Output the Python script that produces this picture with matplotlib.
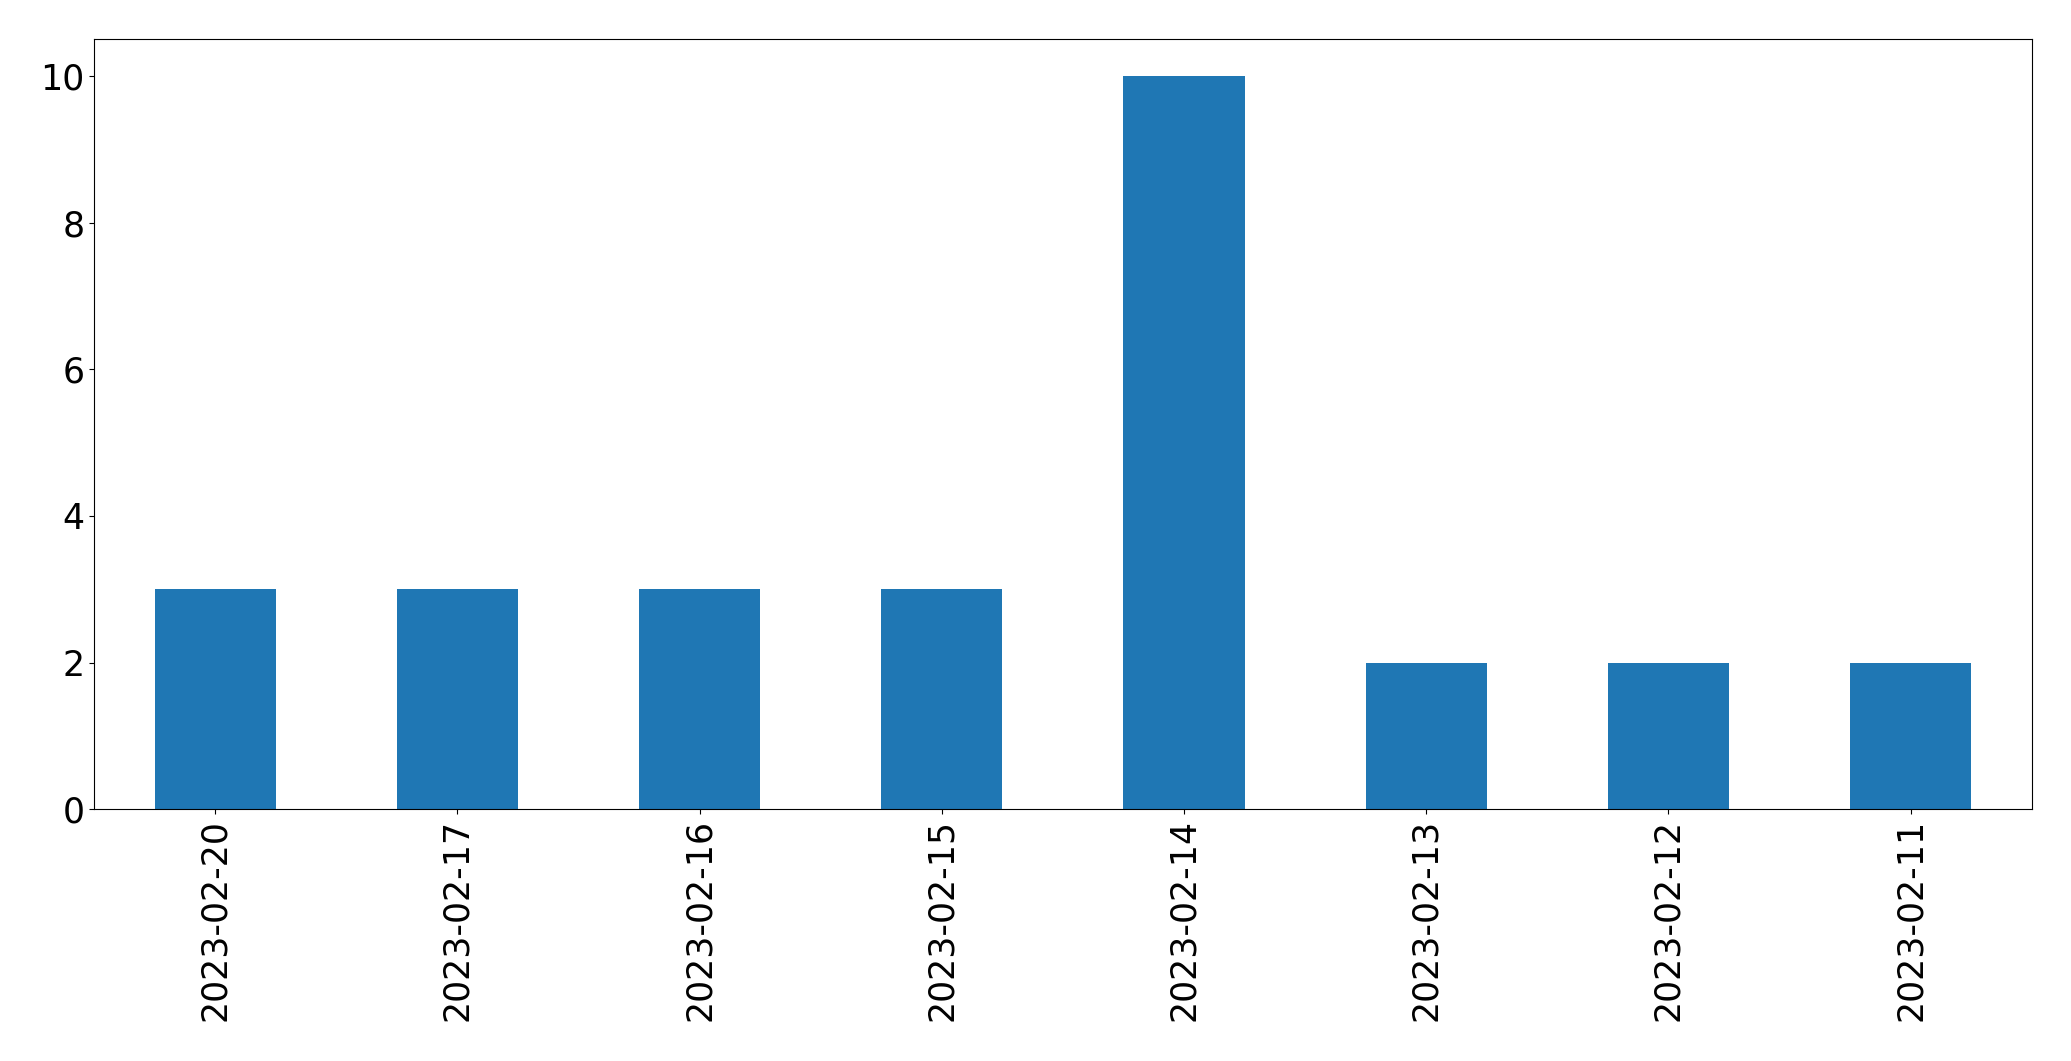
import pandas as pd
import matplotlib
matplotlib.use('Agg')
import matplotlib.pyplot as plt

# 日期与计数
dates = ['2023-02-20', '2023-02-17', '2023-02-16', '2023-02-15',
         '2023-02-14', '2023-02-13', '2023-02-12', '2023-02-11']
counts = [3, 3, 3, 3, 10, 2, 2, 2]

s = pd.Series(counts, index=dates)

fig = plt.figure(figsize=(20.71, 10.61), dpi=100)
ax = fig.add_subplot(111)
s.plot(kind='bar', ax=ax, color='#1f77b4', fontsize=25)
ax.set_yticks([0, 2, 4, 6, 8, 10])
fig.subplots_adjust(left=0.0455, right=0.981, top=0.963, bottom=0.2372)

plt.savefig('out.png', dpi=100)
